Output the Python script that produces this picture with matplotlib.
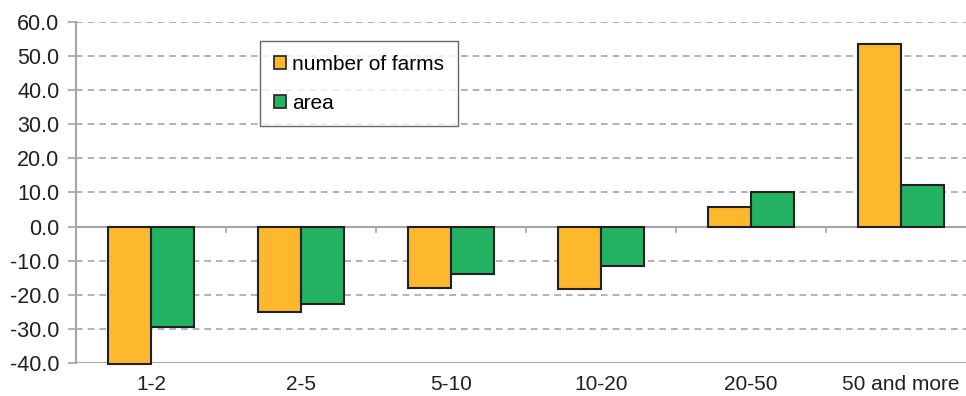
import numpy as np
import matplotlib.pyplot as plt

plt.rcParams['font.family'] = ['Liberation Sans', 'DejaVu Sans']

# farm size groups and change in %
groups = ['1-2', '2-5', '5-10', '10-20', '20-50', '50 and more']
farms = [-40.2, -25.0, -18.0, -18.3, 5.8, 53.6]
area = [-29.5, -22.8, -13.9, -11.7, 10.0, 12.2]
yticks = [-40, -30, -20, -10, 0, 10, 20, 30, 40, 50, 60]

c_farms = '#FDB92B'
c_area = '#22B262'
edge = '#231F20'
grey = '#A6A6A6'

W, H = 966, 396
fig = plt.figure(figsize=(W / 100, H / 100), dpi=100)
# last category runs past the right edge of the figure
ax = fig.add_axes([76 / W, 33 / H, 900 / W, 341 / H])

x = np.arange(len(groups))
w = 0.287
ax.bar(x - w / 2, farms, w, color=c_farms, edgecolor=edge, linewidth=1.5,
       label='number of farms', zorder=3, clip_on=False)
ax.bar(x + w / 2, area, w, color=c_area, edgecolor=edge, linewidth=1.5,
       label='area', zorder=3, clip_on=False)

ax.set_xlim(-0.5, len(groups) - 0.5)
ax.set_ylim(-40, 60)

for v in yticks:
    if v == 0 or v == -40:
        continue
    ax.axhline(v, color=grey, lw=1.2, ls=(0, (4, 3)), zorder=1)
ax.axhline(-40, color=grey, lw=1.5, zorder=1)
ax.axhline(0, color=grey, lw=1.5, zorder=2)

# category tick marks hanging below the zero line
for b in np.arange(0.5, len(groups) - 0.5):
    ax.plot([b, b], [0, -1.5], color=grey, lw=1.2, zorder=2)

for s in ['top', 'right', 'bottom']:
    ax.spines[s].set_visible(False)
ax.spines['left'].set_color(grey)
ax.spines['left'].set_linewidth(1.5)

ax.set_yticks(yticks)
ax.set_yticklabels([f'{v:.1f}' for v in yticks])
ax.tick_params(axis='y', length=6, width=1.2, color=grey, labelsize=15.5,
               labelcolor='#231F20', pad=6)
ax.set_xticks(x)
ax.set_xticklabels(groups)
ax.tick_params(axis='x', length=0, labelsize=15, labelcolor='#231F20', pad=9)

leg = ax.legend(loc='upper left', bbox_to_anchor=((260 - 76) / 900, (363 - 41.5) / 341),
                fontsize=15, frameon=True, fancybox=False, edgecolor='#404040',
                handlelength=0.6, handleheight=0.6, handletextpad=0.3,
                labelspacing=0.95, borderpad=0.65, borderaxespad=0)
leg.get_frame().set_linewidth(1.0)
for h in leg.legend_handles:
    h.set_linewidth(1.2)

fig.savefig('out.png', dpi=100)
